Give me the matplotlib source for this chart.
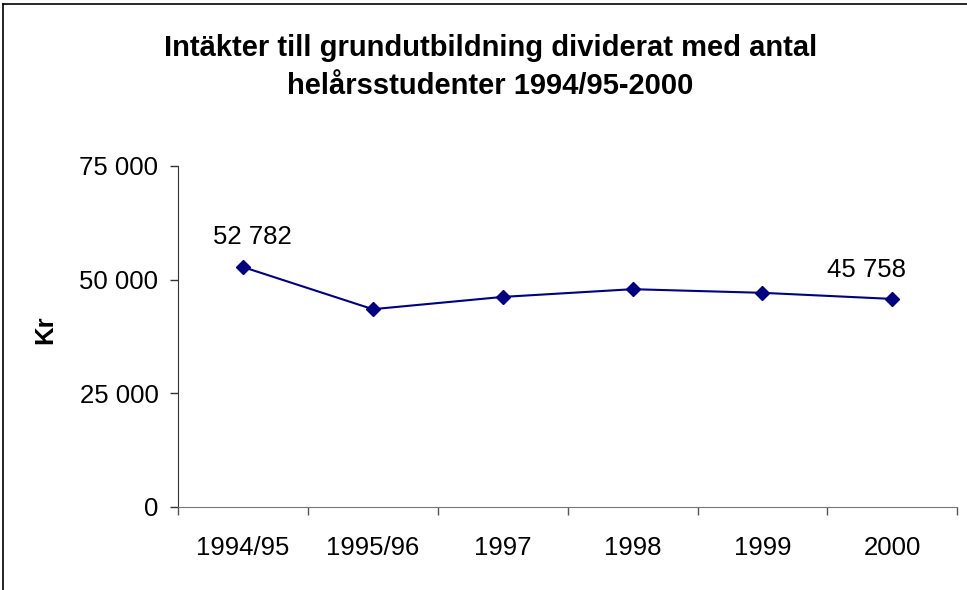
import matplotlib
matplotlib.use("Agg")
import matplotlib.pyplot as plt
from matplotlib.lines import Line2D
from matplotlib.ticker import FuncFormatter, FixedLocator

plt.rcParams['font.family'] = ['Liberation Sans', 'DejaVu Sans']

categories = ["1994/95", "1995/96", "1997", "1998", "1999", "2000"]
values = [52782, 43500, 46200, 47900, 47100, 45758]
yticks = [0, 25000, 50000, 75000]
title = "Intäkter till grundutbildning dividerat med antal\nhelårsstudenter 1994/95-2000"

fig = plt.figure(figsize=(9.67, 5.9), dpi=100)
ax = fig.add_axes([0.184, 0.1407, 0.806, 0.578])

x = list(range(len(categories)))
ax.plot(x, values, color='#000080', lw=1.5, marker='D', markersize=7,
        markerfacecolor='#000080', markeredgecolor='#000080')

ax.set_xlim(-0.5, len(categories) - 0.5)
ax.set_ylim(0, 75000)
ax.yaxis.set_major_locator(FixedLocator(yticks))
ax.yaxis.set_major_formatter(FuncFormatter(lambda v, p: f"{int(v):,}".replace(",", " ")))

ax.xaxis.set_major_locator(FixedLocator([i - 0.5 for i in range(len(categories) + 1)]))
ax.xaxis.set_major_formatter(FuncFormatter(lambda v, p: ""))
ax.xaxis.set_minor_locator(FixedLocator(x))
ax.set_xticklabels(categories, minor=True)
ax.tick_params(axis='x', which='minor', length=0, pad=21, labelsize=18.5)
ax.tick_params(axis='x', which='major', length=6, direction='out', width=1, color='#555555')
ax.tick_params(axis='y', length=6, direction='out', width=1, color='#333333', labelsize=18.5, pad=8)

for s in ['top', 'right']:
    ax.spines[s].set_visible(False)
ax.spines['left'].set_color('#333333')
ax.spines['bottom'].set_color('#777777')

ax.set_ylabel("Kr", fontsize=18.5, fontweight='bold')
ax.yaxis.set_label_coords(-0.155, 0.52)

def fmt(v):
    return f"{v:,}".replace(",", " ")

ax.annotate(fmt(values[0]), (x[0], values[0]), xytext=(7, 21.6), textcoords='offset points',
            ha='center', va='center', fontsize=18.5)
ax.annotate(fmt(values[-1]), (x[-1], values[-1]), xytext=(-18.7, 20.9), textcoords='offset points',
            ha='center', va='center', fontsize=18.5)

fig.text(0.507, 0.887, title, ha='center', va='center', fontsize=21, fontweight='bold',
         linespacing=1.45)

fig.add_artist(Line2D([0.003, 1.0], [0.993, 0.993], transform=fig.transFigure, color='black', lw=1.2))
fig.add_artist(Line2D([0.003, 0.003], [0.0, 0.993], transform=fig.transFigure, color='black', lw=1.2))

fig.savefig("out.png", dpi=100)
